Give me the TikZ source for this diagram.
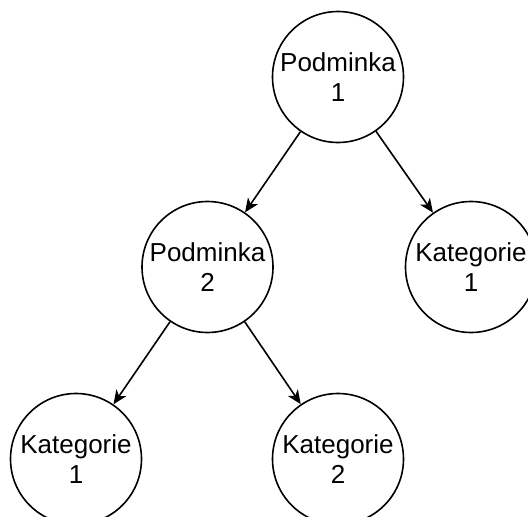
\documentclass[tikz,border=0pt]{standalone}
\usepackage{fontspec}
\setmainfont{Liberation Sans}
\usetikzlibrary{arrows.meta}
\begin{document}
\begin{tikzpicture}[x=1pt,y=-1pt,
  state/.style={draw=black, line width=1.6pt, circle, minimum size=131pt, inner sep=0pt,
    align=center, font=\fontsize{26}{30.5}\selectfont},
  conn/.style={draw=black, line width=1.6pt, -{Stealth[length=14pt,width=12pt,inset=4pt]}}]
\useasboundingbox (0,0) rectangle (528,517);
\node[state] (p1) at (338,77) {Podminka\\1};
\node[state] (p2) at (207.5,267) {Podminka\\2};
\node[state] (k1r) at (471,267) {Kategorie\\1};
\node[state] (k1l) at (76,459) {Kategorie\\1};
\node[state] (k2) at (338,459) {Kategorie\\2};
\draw[conn] (p1) -- (p2);
\draw[conn] (p1) -- (k1r);
\draw[conn] (p2) -- (k1l);
\draw[conn] (p2) -- (k2);
\end{tikzpicture}
\end{document}
